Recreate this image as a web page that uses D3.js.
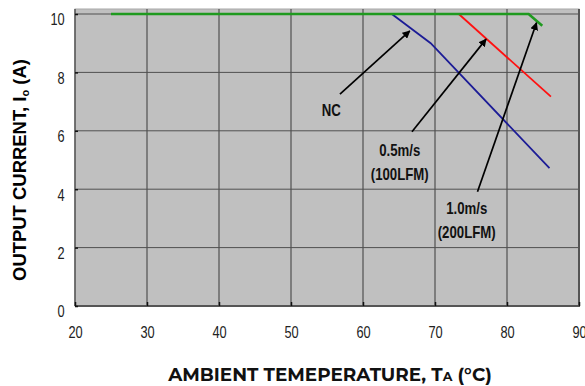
<!DOCTYPE html>
<html>
<head>
<meta charset="utf-8">
<script src="https://cdn.jsdelivr.net/npm/d3@7"></script>
<style>
  body { margin: 0; background: #fff; }
  svg { display: block; }
  .tick-label { font-family: "Liberation Sans", Arial, sans-serif; font-size: 16px; fill: #222; }
  .note { font-family: "Liberation Sans", Arial, sans-serif; font-size: 16.5px; font-weight: bold; fill: #111; }
</style>
</head>
<body>
<div id="master"></div>
<script>
// data
let xTicks = [20, 30, 40, 50, 60, 70, 80, 90]
let yTicks = [0, 2, 4, 6, 8, 10]

let tempNC = [64, 69.4, 85.9]
let currNC = [10, 9.0, 4.72]
let temp05 = [73.3, 86.1]
let curr05 = [10, 7.17]
let temp10 = [25, 83, 84.9]
let curr10 = [10, 10, 9.6]

// annotations: label position and arrow ends, in chart units
let notes = [
  { lines: ["NC"], t: 55.6, i: 6.71, x1: 56.8, y1: 7.26, x2: 66.5, y2: 9.42 },
  { lines: ["0.5m/s", "(100LFM)"], t: 65.1, i: 5.34, x1: 66.8, y1: 5.97, x2: 77.1, y2: 9.14 },
  { lines: ["1.0m/s", "(200LFM)"], t: 74.4, i: 3.36, x1: 75.9, y1: 3.91, x2: 84.1, y2: 9.70 }
]

let w = 585, h = 386
let plot = { left: 75, right: 579, top: 9, bottom: 306 }
let narrow = 0.8

let svg = d3.select("#master").append("svg").attr("width", w).attr("height", h)

let xScale = d3.scaleLinear().domain([20, 90]).range([plot.left, plot.right])
let yScale = d3.scaleLinear().domain([0, 10]).range([plot.bottom, 14])

svg.append("defs").append("marker")
  .attr("id", "head").attr("viewBox", "0 0 10 10")
  .attr("refX", 9).attr("refY", 5)
  .attr("markerWidth", 8).attr("markerHeight", 8)
  .attr("markerUnits", "userSpaceOnUse")
  .attr("orient", "auto")
  .append("path").attr("d", "M0,0 L10,5 L0,10 z").attr("fill", "#000")

// background
svg.append("rect")
  .attr("x", plot.left).attr("y", plot.top)
  .attr("width", plot.right - plot.left).attr("height", plot.bottom - plot.top)
  .attr("fill", "#c0c0c0").attr("stroke", "#a8a8a8").attr("stroke-width", 1)

// grid
svg.append("g").selectAll("line").data(xTicks.slice(1, -1)).enter().append("line")
  .attr("x1", d => xScale(d)).attr("x2", d => xScale(d))
  .attr("y1", plot.top).attr("y2", plot.bottom)
  .attr("stroke", "#3a3a3a").attr("stroke-width", 1)
svg.append("g").selectAll("line").data(yTicks.slice(1)).enter().append("line")
  .attr("x1", plot.left).attr("x2", plot.right)
  .attr("y1", d => yScale(d)).attr("y2", d => yScale(d))
  .attr("stroke", "#505050").attr("stroke-width", 1)

// frame
svg.append("line").attr("x1", plot.left).attr("x2", plot.left).attr("y1", plot.top).attr("y2", plot.bottom)
  .attr("stroke", "#555").attr("stroke-width", 1.5)
svg.append("line").attr("x1", plot.right).attr("x2", plot.right).attr("y1", plot.top).attr("y2", plot.bottom)
  .attr("stroke", "#555").attr("stroke-width", 2)
svg.append("line").attr("x1", plot.left).attr("x2", plot.right + 1).attr("y1", plot.bottom).attr("y2", plot.bottom)
  .attr("stroke", "#555").attr("stroke-width", 2)

// axes (ticks point inwards)
let xAxis = d3.axisBottom(xScale).tickValues(xTicks).tickSize(-4).tickPadding(21).tickFormat(d3.format("d"))
let gx = svg.append("g").attr("transform", "translate(0," + plot.bottom + ")").call(xAxis)
gx.select(".domain").remove()
gx.selectAll(".tick line").attr("stroke", "#111").attr("stroke-width", 1.5)
gx.selectAll(".tick text").attr("class", "tick-label").attr("font-size", null).attr("font-family", null)
  .attr("transform", "scale(" + narrow + ",1)")

let yAxis = d3.axisLeft(yScale).tickValues(yTicks).tickSize(-3).tickPadding(13)
let gy = svg.append("g").attr("transform", "translate(" + plot.left + ",0)").call(yAxis)
gy.select(".domain").remove()
gy.selectAll(".tick line").attr("stroke", "#111").attr("stroke-width", 1.5)
gy.selectAll(".tick text").attr("class", "tick-label").attr("font-size", null).attr("font-family", null)
  .attr("dy", "0.68em").attr("transform", "scale(" + narrow + ",1)")

// curves
let line = d3.line().x(d => xScale(d[0])).y(d => yScale(d[1]))
let curves = [
  { t: tempNC, c: currNC, color: "#1c1c96", sw: 1.8 },
  { t: temp05, c: curr05, color: "#ff1010", sw: 1.8 },
  { t: temp10, c: curr10, color: "#1f9a1f", sw: 2.6 }
]
svg.append("g").selectAll("path").data(curves).enter().append("path")
  .attr("d", d => line(d3.zip(d.t, d.c)))
  .attr("fill", "none").attr("stroke", d => d.color).attr("stroke-width", d => d.sw)

// annotations
let ng = svg.append("g")
ng.selectAll("line").data(notes).enter().append("line")
  .attr("x1", d => xScale(d.x1)).attr("y1", d => yScale(d.y1))
  .attr("x2", d => xScale(d.x2)).attr("y2", d => yScale(d.y2))
  .attr("stroke", "#000").attr("stroke-width", 1.7)
  .attr("marker-end", "url(#head)")
notes.forEach(n => {
  n.lines.forEach((s, k) => {
    ng.append("text").attr("class", "note")
      .attr("transform", "translate(" + xScale(n.t) + "," + (yScale(n.i) + k * 24) + ") scale(" + narrow + ",1)")
      .attr("text-anchor", "middle").attr("dy", "0.36em")
      .text(s)
  })
})

// axis titles
let yt = svg.append("text")
  .attr("text-anchor", "middle")
  .attr("font-family", "'Liberation Sans', Arial, sans-serif")
  .attr("font-weight", "bold").attr("font-size", 16).attr("fill", "#000")
yt.append("tspan").text("OUTPUT CURRENT, I")
yt.append("tspan").attr("font-size", 11).attr("dy", 3).text("o")
yt.append("tspan").attr("dy", -3).text(" (A)")
let yb = yt.node().getBBox()
let ys = 223 / yb.width
yt.attr("font-size", 16 * ys)
yt.attr("transform", "translate(26,170) rotate(-90)")

let xt = svg.append("text")
  .attr("x", 0).attr("y", 0)
  .attr("text-anchor", "middle")
  .attr("font-family", "Montserrat, 'Open Sans', sans-serif")
  .attr("font-weight", "bold").attr("font-size", 16).attr("fill", "#111")
xt.append("tspan").text("AMBIENT TEMEPERATURE, T")
xt.append("tspan").attr("font-size", 11).text("A")
xt.append("tspan").text(" (°C)")
let xb = xt.node().getBBox()
let xs = 325 / xb.width
xt.attr("font-size", 16 * xs)
xt.selectAll("tspan").filter((d, i) => i == 1).attr("font-size", 11 * xs)
xt.attr("transform", "translate(330,381)")
</script>
</body>
</html>
